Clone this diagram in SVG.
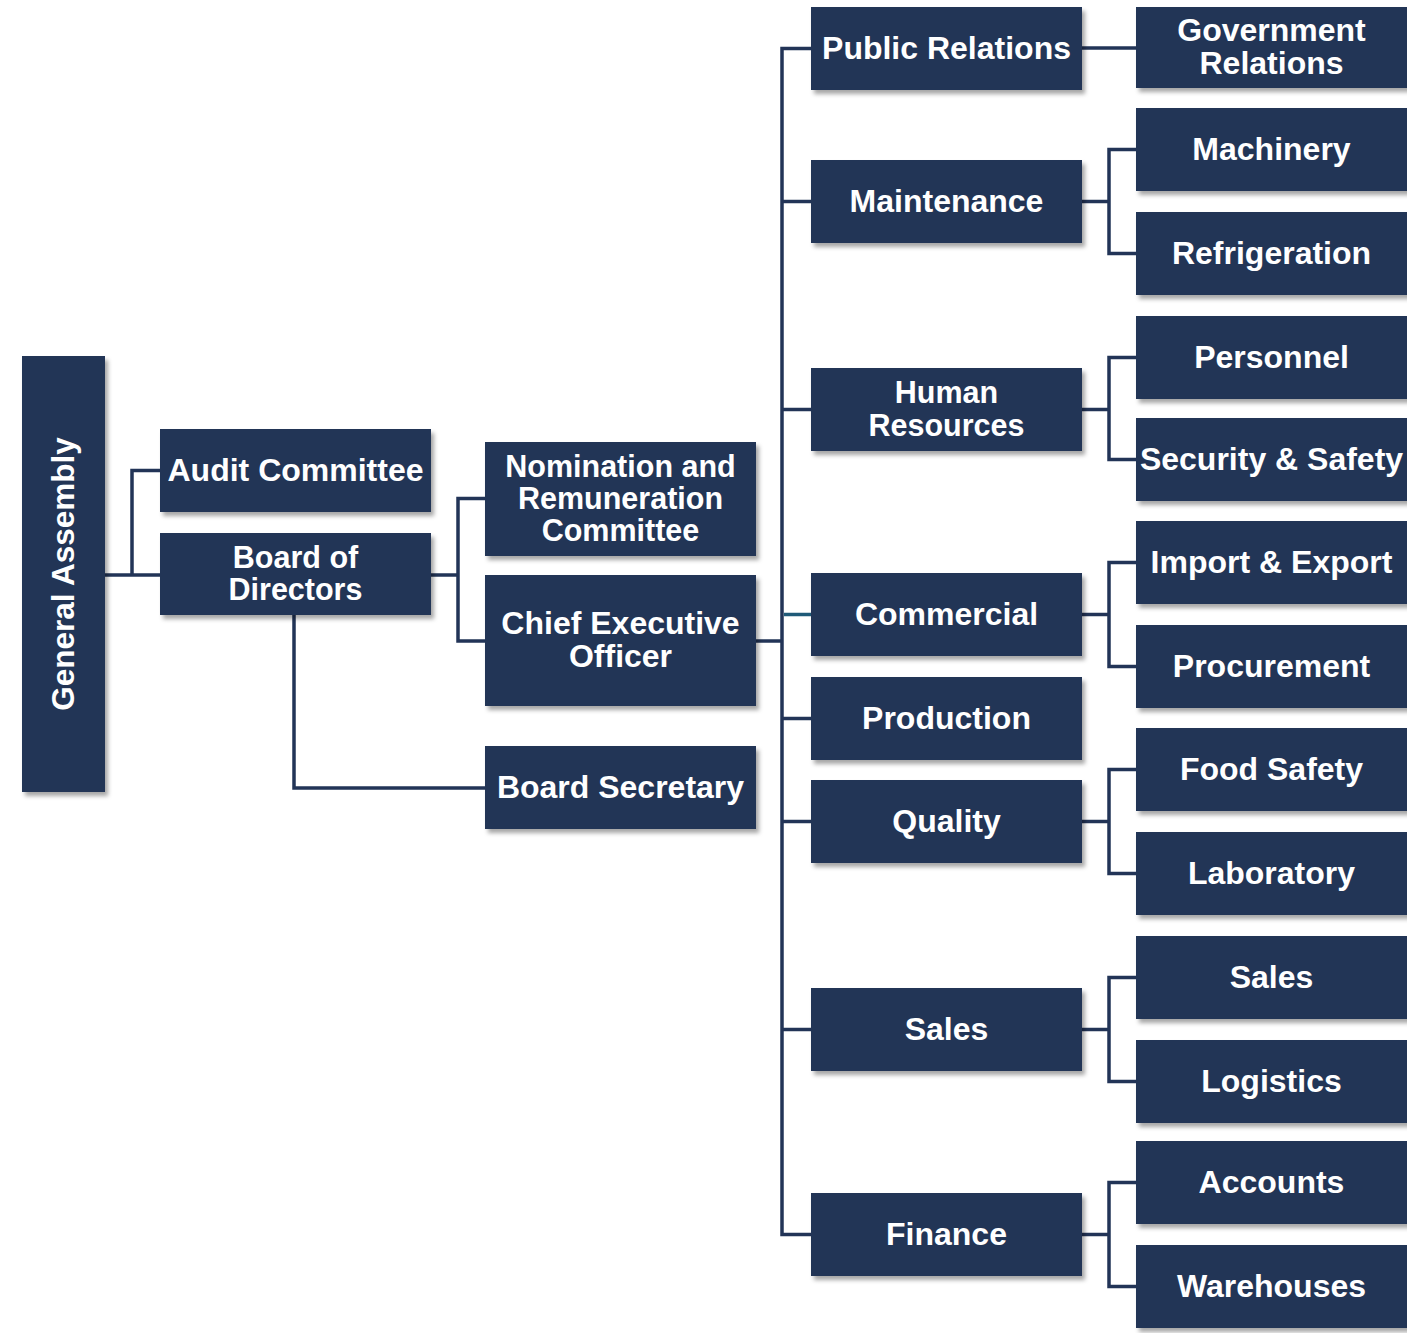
<svg xmlns="http://www.w3.org/2000/svg" width="1407" height="1333" viewBox="0 0 1407 1333">
  <defs>
    <filter id="shadow" x="-10%" y="-10%" width="130%" height="140%">
      <feDropShadow dx="3" dy="4" stdDeviation="2.2" flood-color="#000" flood-opacity="0.35"/>
    </filter>
    <style>
      .box { fill: #223457; filter: url(#shadow); }
      .lbl { font-family: "Liberation Sans", Arial, sans-serif; font-weight: bold; font-size: 32px; fill: #ffffff; text-anchor: middle; }
      .sm { font-size: 30.5px; }
      .conn { stroke: #223457; stroke-width: 3.5; fill: none; }
      .conn-accent { stroke: #1f5a78; stroke-width: 3.5; fill: none; }
    </style>
  </defs>
  <rect width="1407" height="1333" fill="#ffffff"/>

  <!-- connectors -->
  <g id="connectors">
    <path class="conn" d="M105 575 H160"/>
    <path class="conn" d="M132 575 V470.5 H160"/>
    <path class="conn" d="M431 575 H458"/>
    <path class="conn" d="M485 498.5 H458 V641 H485"/>
    <path class="conn" d="M294 615 V788 H485"/>
    <path class="conn" d="M756 641 H782"/>
    <path class="conn" d="M811 48.5 H782 V1234.5 H811"/>
    <path class="conn" d="M782 201.5 H811"/>
    <path class="conn" d="M782 409.5 H811"/>
    <path class="conn-accent" d="M784 614.5 H811"/>
    <path class="conn" d="M782 718.5 H811"/>
    <path class="conn" d="M782 821.5 H811"/>
    <path class="conn" d="M782 1029.5 H811"/>
    <path class="conn" d="M1082 48 H1136"/>
    <path class="conn" d="M1082 201.5 H1109"/>
    <path class="conn" d="M1136 149.5 H1109 V253.5 H1136"/>
    <path class="conn" d="M1082 409.5 H1109"/>
    <path class="conn" d="M1136 357.5 H1109 V459.5 H1136"/>
    <path class="conn" d="M1082 614.5 H1109"/>
    <path class="conn" d="M1136 562.5 H1109 V666.5 H1136"/>
    <path class="conn" d="M1082 821.5 H1109"/>
    <path class="conn" d="M1136 769.5 H1109 V873.5 H1136"/>
    <path class="conn" d="M1082 1029.5 H1109"/>
    <path class="conn" d="M1136 977.5 H1109 V1081.5 H1136"/>
    <path class="conn" d="M1082 1234.5 H1109"/>
    <path class="conn" d="M1136 1182.5 H1109 V1286.5 H1136"/>
  </g>

  <!-- governance -->
  <g id="general-assembly">
    <rect class="box" x="22" y="356" width="83" height="436"/>
    <text class="lbl" style="font-size:31.5px" x="63.5" y="584" transform="rotate(-90 63.5 574)">General Assembly</text>
  </g>
  <g id="audit-committee">
    <rect class="box" x="160" y="429" width="271" height="83"/>
    <text class="lbl" x="295.5" y="480.5">Audit Committee</text>
  </g>
  <g id="board-of-directors">
    <rect class="box" x="160" y="533" width="271" height="82"/>
    <text class="lbl sm" x="295.5" y="567.75">Board of</text>
    <text class="lbl sm" x="295.5" y="600.25">Directors</text>
  </g>
  <g id="nomination-committee">
    <rect class="box" x="485" y="442" width="271" height="114"/>
    <text class="lbl sm" x="620.5" y="477">Nomination and</text>
    <text class="lbl sm" x="620.5" y="509">Remuneration</text>
    <text class="lbl sm" x="620.5" y="541">Committee</text>
  </g>
  <g id="ceo">
    <rect class="box" x="485" y="575" width="271" height="131"/>
    <text class="lbl" x="620.5" y="634.25">Chief Executive</text>
    <text class="lbl" x="620.5" y="666.75">Officer</text>
  </g>
  <g id="board-secretary">
    <rect class="box" x="485" y="746" width="271" height="83"/>
    <text class="lbl" x="620.5" y="797.5">Board Secretary</text>
  </g>

  <!-- departments -->
  <g id="public-relations">
    <rect class="box" x="811" y="7" width="271" height="83"/>
    <text class="lbl" x="946.5" y="58.5">Public Relations</text>
  </g>
  <g id="maintenance">
    <rect class="box" x="811" y="160" width="271" height="83"/>
    <text class="lbl" x="946.5" y="211.5">Maintenance</text>
  </g>
  <g id="human-resources">
    <rect class="box" x="811" y="368" width="271" height="83"/>
    <text class="lbl sm" x="946.5" y="403.25">Human</text>
    <text class="lbl sm" x="946.5" y="435.75">Resources</text>
  </g>
  <g id="commercial">
    <rect class="box" x="811" y="573" width="271" height="83"/>
    <text class="lbl" x="946.5" y="624.5">Commercial</text>
  </g>
  <g id="production">
    <rect class="box" x="811" y="677" width="271" height="83"/>
    <text class="lbl" x="946.5" y="728.5">Production</text>
  </g>
  <g id="quality">
    <rect class="box" x="811" y="780" width="271" height="83"/>
    <text class="lbl" x="946.5" y="831.5">Quality</text>
  </g>
  <g id="sales">
    <rect class="box" x="811" y="988" width="271" height="83"/>
    <text class="lbl" x="946.5" y="1039.5">Sales</text>
  </g>
  <g id="finance">
    <rect class="box" x="811" y="1193" width="271" height="83"/>
    <text class="lbl" x="946.5" y="1244.5">Finance</text>
  </g>

  <!-- sections -->
  <g id="government-relations">
    <rect class="box" x="1136" y="7" width="273" height="81"/>
    <text class="lbl" x="1271.5" y="41.25">Government</text>
    <text class="lbl" x="1271.5" y="73.75">Relations</text>
  </g>
  <g id="machinery">
    <rect class="box" x="1136" y="108" width="273" height="83"/>
    <text class="lbl" x="1271.5" y="159.5">Machinery</text>
  </g>
  <g id="refrigeration">
    <rect class="box" x="1136" y="212" width="273" height="83"/>
    <text class="lbl" x="1271.5" y="263.5">Refrigeration</text>
  </g>
  <g id="personnel">
    <rect class="box" x="1136" y="316" width="273" height="83"/>
    <text class="lbl" x="1271.5" y="367.5">Personnel</text>
  </g>
  <g id="security-safety">
    <rect class="box" x="1136" y="418" width="273" height="83"/>
    <text class="lbl" x="1271.5" y="469.5">Security &amp; Safety</text>
  </g>
  <g id="import-export">
    <rect class="box" x="1136" y="521" width="273" height="83"/>
    <text class="lbl" x="1271.5" y="572.5">Import &amp; Export</text>
  </g>
  <g id="procurement">
    <rect class="box" x="1136" y="625" width="273" height="83"/>
    <text class="lbl" x="1271.5" y="676.5">Procurement</text>
  </g>
  <g id="food-safety">
    <rect class="box" x="1136" y="728" width="273" height="83"/>
    <text class="lbl" x="1271.5" y="779.5">Food Safety</text>
  </g>
  <g id="laboratory">
    <rect class="box" x="1136" y="832" width="273" height="83"/>
    <text class="lbl" x="1271.5" y="883.5">Laboratory</text>
  </g>
  <g id="sales-unit">
    <rect class="box" x="1136" y="936" width="273" height="83"/>
    <text class="lbl" x="1271.5" y="987.5">Sales</text>
  </g>
  <g id="logistics">
    <rect class="box" x="1136" y="1040" width="273" height="83"/>
    <text class="lbl" x="1271.5" y="1091.5">Logistics</text>
  </g>
  <g id="accounts">
    <rect class="box" x="1136" y="1141" width="273" height="83"/>
    <text class="lbl" x="1271.5" y="1192.5">Accounts</text>
  </g>
  <g id="warehouses">
    <rect class="box" x="1136" y="1245" width="273" height="83"/>
    <text class="lbl" x="1271.5" y="1296.5">Warehouses</text>
  </g>
</svg>
